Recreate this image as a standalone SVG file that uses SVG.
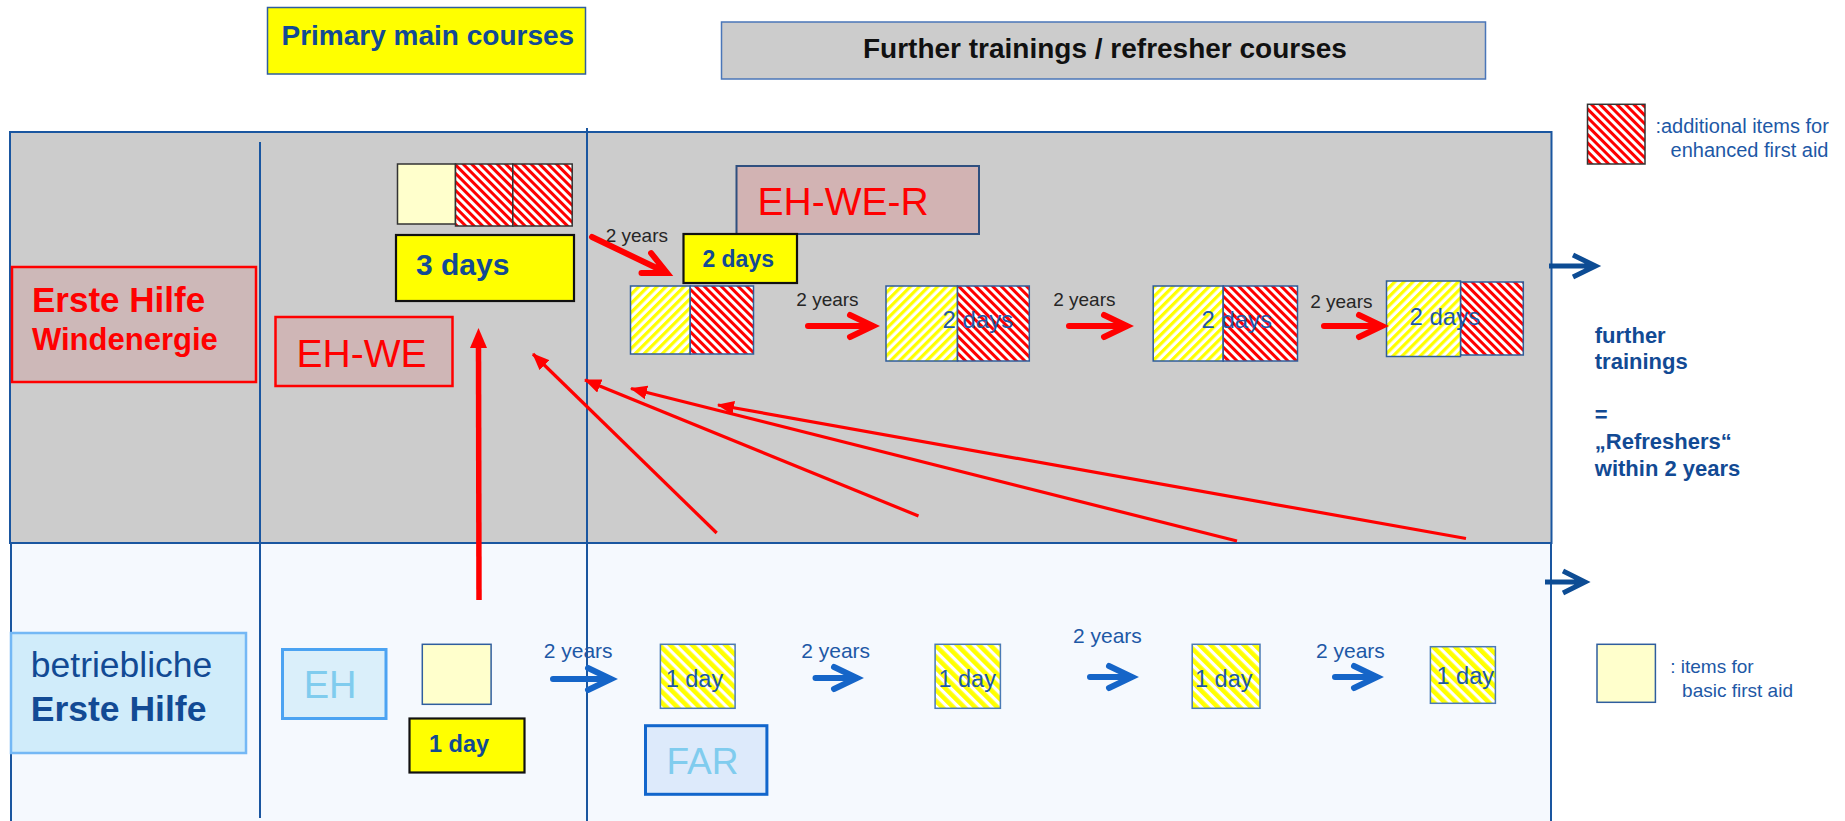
<svg xmlns="http://www.w3.org/2000/svg" width="1845" height="821" viewBox="0 0 1845 821">
<style>
.t{font-family:"Liberation Sans",Arial,sans-serif}
.b{font-weight:bold}
.db{fill:#124A94}
.bl{fill:#1D58A6}
.gy{fill:#262626}
.rd{fill:#FF0000}
.lb{fill:#80CCEE}
.frame{stroke:#1A56A0;stroke-width:2}
.vl{stroke:#1A56A0;stroke-width:2;fill:none}
.rh{fill:url(#redh)}
.yh{fill:url(#yelh)}
.yl{fill:url(#yell)}
.hb{stroke:#2E5C9A;stroke-width:1.5}
.lbx{stroke:#4A7AB5;stroke-width:1.5}
.yb{fill:#FFFF00;stroke:#111;stroke-width:2.2}
.ra{stroke:#FF0000;stroke-width:6;fill:none;stroke-linecap:round;stroke-linejoin:miter}
.ba{stroke:#1565C8;stroke-width:6;fill:none;stroke-linecap:round;stroke-linejoin:miter}
.da{stroke:#0D4C94;stroke-width:5;fill:none;stroke-linecap:butt;stroke-linejoin:miter}
.cl{stroke:#FF0000;stroke-width:3.2;fill:none;marker-end:url(#ah)}
</style>
<defs>
<pattern id="redh" width="6" height="6" patternUnits="userSpaceOnUse" patternTransform="rotate(-45)">
<rect width="6" height="6" fill="#FFFFFF"/><rect width="3" height="6" fill="#FF0000"/>
</pattern>
<pattern id="yelh" width="6.4" height="6.4" patternUnits="userSpaceOnUse" patternTransform="rotate(45)">
<rect width="6.4" height="6.4" fill="#FFFFFF"/><rect width="3.2" height="6.4" fill="#FFFF00"/>
</pattern>
<pattern id="yell" width="7.8" height="7.8" patternUnits="userSpaceOnUse" patternTransform="rotate(-45)">
<rect width="7.8" height="7.8" fill="#FFFFFF"/><rect width="4.6" height="7.8" fill="#FFFF00"/>
</pattern>
<marker id="ah" markerWidth="17" markerHeight="14" refX="16" refY="7" orient="auto" markerUnits="userSpaceOnUse">
<path d="M0,0 L17,7 L0,14 z" fill="#FF0000"/>
</marker>
</defs>

<g id="frame">
<rect x="10" y="132" width="1541.5" height="411" fill="#CCCCCC" class="frame"/>
<rect x="11" y="543" width="1540" height="290" fill="#F5F9FE" class="frame"/>
<line x1="260" y1="142" x2="260" y2="818" class="vl"/>
<line x1="587" y1="128" x2="587" y2="821" class="vl"/>
</g>

<g id="header-primary">
<rect x="267.5" y="7.5" width="318" height="66.5" fill="#FFFF00" stroke="#2F5E9E" stroke-width="1.5"/>
<text x="281.5" y="45" class="t b db" font-size="28">Primary main courses</text>
</g>
<g id="header-further">
<rect x="721.5" y="22" width="764" height="57" fill="#CCCCCC" stroke="#4A76B8" stroke-width="1.5"/>
<text x="863" y="58" class="t b" font-size="28" fill="#111111">Further trainings / refresher courses</text>
</g>

<g id="erste-hilfe-we">
<rect x="12" y="267" width="244" height="115" fill="#CDB8B8" stroke="#FF0000" stroke-width="2.5"/>
<text x="32" y="312" class="t b rd" font-size="35">Erste Hilfe</text>
<text x="32" y="350" class="t b rd" font-size="31">Windenergie</text>
</g>

<g id="eh-we">
<rect x="275.5" y="317" width="177" height="69" fill="#CFB6B6" stroke="#FF0000" stroke-width="2.5"/>
<text x="296.6" y="367" class="t rd" font-size="39">EH-WE</text>
</g>

<g id="main-3days">
<rect x="397.5" y="164" width="58" height="60" fill="#FFFFCC" stroke="#333333" stroke-width="1.5"/>
<rect x="455.5" y="164" width="57.3" height="62" class="rh" stroke="#333333" stroke-width="1.5"/>
<rect x="512.8" y="164" width="59.4" height="62" class="rh" stroke="#333333" stroke-width="1.5"/>
<rect x="396" y="235" width="178" height="66" class="yb"/>
<text x="416" y="275" class="t b db" font-size="30">3 days</text>
</g>

<g id="eh-we-r">
<rect x="736.5" y="166" width="242.5" height="68" fill="#D2B3B3" stroke="#2F4F7F" stroke-width="2"/>
<text x="757.6" y="215" class="t rd" font-size="39">EH-WE-R</text>
</g>

<g id="refresher-1">
<rect x="683.5" y="234" width="113.5" height="49" class="yb"/>
<text x="702.4" y="267" class="t b db" font-size="23">2 days</text>
<rect x="630.5" y="286" width="59.7" height="68" class="yh hb"/>
<rect x="690.2" y="286" width="63.3" height="68" class="rh hb"/>
</g>

<g id="refresher-2">
<rect x="886" y="286" width="71.5" height="75" class="yh hb"/>
<rect x="957.5" y="286" width="71.8" height="75" class="rh hb"/>
<text x="942.5" y="328" class="t bl" font-size="24">2 days</text>
</g>

<g id="refresher-3">
<rect x="1153.2" y="286" width="70" height="75" class="yh hb"/>
<rect x="1223.2" y="286" width="74.3" height="75" class="rh hb"/>
<text x="1201.4" y="328" class="t bl" font-size="24">2 days</text>
</g>

<g id="refresher-4">
<rect x="1460.5" y="282" width="62.8" height="73" class="rh hb"/>
<rect x="1386.5" y="281" width="74" height="75.5" class="yh hb"/>
<text x="1409.5" y="325" class="t bl" font-size="24">2 days</text>
</g>

<g id="betriebliche-eh">
<rect x="11" y="633" width="235" height="120" fill="#D0ECFA" stroke="#74B8F5" stroke-width="2.5"/>
<text x="30.8" y="676.7" class="t db" font-size="35.5">betriebliche</text>
<text x="30.8" y="720.7" class="t b db" font-size="35.5">Erste Hilfe</text>
</g>

<g id="eh">
<rect x="282.5" y="649.5" width="103.5" height="69" fill="#DAEFFA" stroke="#4BA3F2" stroke-width="3"/>
<text x="303.7" y="697.7" class="t lb" font-size="38">EH</text>
</g>

<g id="main-1day">
<rect x="422.3" y="644.3" width="68.8" height="60" fill="#FFFFCC" stroke="#2F5E9E" stroke-width="1.5"/>
<rect x="409.5" y="718.5" width="115" height="54" class="yb"/>
<text x="429" y="751.7" class="t b db" font-size="23.5">1 day</text>
</g>

<g id="far-1">
<rect x="660.4" y="644.3" width="74.7" height="64" class="yl lbx"/>
<text x="665.7" y="686.7" class="t bl" font-size="23.5">1 day</text>
</g>
<g id="far">
<rect x="645.5" y="725.7" width="121.4" height="68.6" fill="#DDEAFB" stroke="#1266CC" stroke-width="3"/>
<text x="666.5" y="774.3" class="t lb" font-size="37">FAR</text>
</g>
<g id="far-2">
<rect x="935.1" y="644.3" width="65.3" height="64" class="yl lbx"/>
<text x="938.4" y="686.7" class="t bl" font-size="23.5">1 day</text>
</g>
<g id="far-3">
<rect x="1192.2" y="644.3" width="67.8" height="64" class="yl lbx"/>
<text x="1195" y="686.7" class="t bl" font-size="23.5">1 day</text>
</g>
<g id="far-4">
<rect x="1430.4" y="646.7" width="65" height="56.6" class="yl lbx"/>
<text x="1436.5" y="684" class="t bl" font-size="23.5">1 day</text>
</g>

<g id="side-text">
<text class="t b db" font-size="22">
<tspan x="1594.8" y="343.3">further</tspan>
<tspan x="1594.8" y="369.3">trainings</tspan>
<tspan x="1594.8" y="422">=</tspan>
<tspan x="1594.8" y="449">„Refreshers“</tspan>
<tspan x="1594.8" y="475.7">within 2 years</tspan>
</text>
</g>

<g id="legend-enhanced">
<rect x="1587.5" y="104.3" width="57.5" height="59.7" class="rh" stroke="#333333" stroke-width="1.5"/>
<text x="1655.4" y="133" class="t bl" font-size="20">:additional items for</text>
<text x="1828.5" y="156.7" class="t bl" font-size="20" text-anchor="end">enhanced first aid</text>
</g>
<g id="legend-basic">
<rect x="1597" y="644.3" width="58.4" height="58" fill="#FFFFCC" stroke="#2F5E9E" stroke-width="1.5"/>
<text x="1670.2" y="673.3" class="t bl" font-size="19">: items for</text>
<text x="1682.1" y="696.7" class="t bl" font-size="19">basic first aid</text>
</g>

<g id="connectors">
<!-- upper row red arrows -->
<text x="605.7" y="242" class="t gy" font-size="19">2 years</text>
<path class="ra" d="M592,237 L665,272 M641.5,272.9 L667,273 L651.1,253.1"/>
<text x="796.3" y="306" class="t gy" font-size="19">2 years</text>
<path class="ra" d="M808,326 H870 M850,315 L873,326 L850,337"/>
<text x="1053.2" y="306" class="t gy" font-size="19">2 years</text>
<path class="ra" d="M1069,326 H1125 M1104,315 L1127,326 L1104,337"/>
<text x="1310.2" y="308" class="t gy" font-size="19">2 years</text>
<path class="ra" d="M1324,326 H1380 M1359,315 L1382,326 L1359,337"/>

<!-- lower row blue arrows -->
<text x="543.7" y="657.7" class="t bl" font-size="21">2 years</text>
<path class="ba" d="M553,679 H609 M588,668 L611,679 L588,690"/>
<text x="801.2" y="657.7" class="t bl" font-size="21">2 years</text>
<path class="ba" d="M815.5,678 H855 M834,667 L857,678 L834,689"/>
<text x="1073" y="643.3" class="t bl" font-size="21">2 years</text>
<path class="ba" d="M1090,677 H1130 M1109,666 L1132,677 L1109,688"/>
<text x="1316" y="657.7" class="t bl" font-size="21">2 years</text>
<path class="ba" d="M1335,677 H1375 M1354,666 L1377,677 L1354,688"/>

<!-- right side dark blue arrows -->
<path class="da" d="M1549,266 H1593 M1573,255 L1595.5,266 L1573,277"/>
<path class="da" d="M1545,582 H1583 M1563,571 L1585,582 L1563,593"/>

<!-- vertical red arrow -->
<line x1="479" y1="600" x2="478.5" y2="345" stroke="#FF0000" stroke-width="5.5"/>
<polygon points="478.5,328 470,348 487,348" fill="#FF0000"/>

<!-- converging red arrows -->
<line class="cl" x1="716.7" y1="533" x2="533" y2="354"/>
<line class="cl" x1="918.5" y1="516" x2="585" y2="380"/>
<line class="cl" x1="1237" y1="541" x2="631" y2="388.5"/>
<line class="cl" x1="1466" y1="538.5" x2="718" y2="405"/>
</g>
</svg>
